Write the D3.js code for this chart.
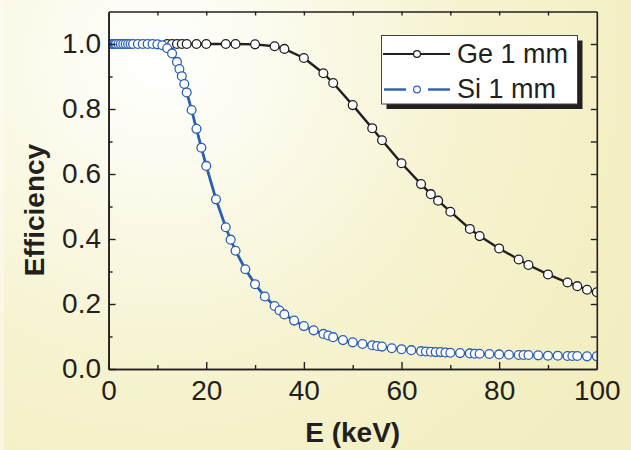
<!DOCTYPE html>
<html>
<head>
<meta charset="utf-8">
<script src="https://cdn.jsdelivr.net/npm/d3@7"></script>
<style>
  body { margin: 0; background: #f5f2cc; }
  svg { display: block; font-family: "Liberation Sans", Arial, sans-serif; }
</style>
</head>
<body>
<svg id="chart" width="631" height="450"></svg>
<script>
// energies (keV) and efficiencies
const geEnergy = [12, 13, 14, 15, 16, 18, 20, 24, 26, 30, 34, 36, 40, 44, 46, 50, 54, 56, 60, 64, 66, 67.5, 70, 74, 76, 80, 84, 86, 90, 94, 96, 98, 100];
const geEff = [1.0, 1.0, 1.0, 1.0, 1.0, 1.0, 1.0, 1.0, 1.0, 0.999, 0.993, 0.985, 0.957, 0.910, 0.880, 0.812, 0.741, 0.704, 0.633, 0.569, 0.538, 0.518, 0.484, 0.431, 0.409, 0.371, 0.337, 0.320, 0.291, 0.266, 0.255, 0.244, 0.236];

const siEnergy = [0.5, 0.75, 1, 1.25, 1.5, 2, 2.5, 3, 3.5, 4, 4.5, 5, 6, 7, 8, 9, 10, 11, 12, 13, 14, 14.5, 15, 15.5, 16, 17, 18, 19, 20, 22, 24, 25, 26, 28, 30, 32, 34, 35, 36, 38, 40, 42, 44, 45, 46, 48, 50, 52, 54, 55, 56, 58, 60, 62, 64, 65, 66, 67, 68, 69, 70, 72, 74, 75, 76, 78, 80, 82, 84, 85, 86, 88, 90, 92, 94, 95, 96, 98, 100];
const siEff = [1.0, 1.0, 1.0, 1.0, 1.0, 1.0, 1.0, 1.0, 1.0, 1.0, 1.0, 1.0, 1.0, 1.0, 1.0, 1.0, 0.999, 0.996, 0.987, 0.971, 0.945, 0.923, 0.901, 0.877, 0.851, 0.797, 0.739, 0.681, 0.625, 0.522, 0.436, 0.398, 0.364, 0.307, 0.261, 0.223, 0.194, 0.180, 0.168, 0.149, 0.132, 0.119, 0.108, 0.103, 0.098, 0.089, 0.082, 0.077, 0.073, 0.071, 0.069, 0.064, 0.061, 0.058, 0.055, 0.054, 0.053, 0.052, 0.052, 0.051, 0.050, 0.049, 0.048, 0.047, 0.047, 0.046, 0.045, 0.044, 0.043, 0.043, 0.043, 0.042, 0.041, 0.041, 0.040, 0.040, 0.040, 0.039, 0.039];

const xTicks = [0, 20, 40, 60, 80, 100];
const xMinor = [10, 30, 50, 70, 90];
const yTicks = [0, 0.2, 0.4, 0.6, 0.8, 1.0];
const yMinor = [0.1, 0.3, 0.5, 0.7, 0.9];
const seriesNames = ["Ge 1 mm", "Si 1 mm"];

const ink = "#231f20";
const blue = "#2c5fb3";

const svg = d3.select("#chart");
const plotL = 108.6, plotR = 596.8, plotT = 11.5, plotB = 369;

// background
const defs = svg.append("defs");
const grad = defs.append("radialGradient").attr("id", "bg").attr("gradientUnits", "userSpaceOnUse")
    .attr("cx", 160).attr("cy", 60).attr("r", 560);
grad.append("stop").attr("offset", 0).attr("stop-color", "#ffffff");
grad.append("stop").attr("offset", 0.2).attr("stop-color", "#fcfbee");
grad.append("stop").attr("offset", 0.55).attr("stop-color", "#f6f3d0");
grad.append("stop").attr("offset", 1).attr("stop-color", "#f2eebf");
svg.append("rect").attr("width", 631).attr("height", 450).attr("fill", "url(#bg)");
svg.append("rect").attr("width", 4).attr("height", 450).attr("fill", "#ffffff").attr("opacity", 0.35);

defs.append("clipPath").attr("id", "plot").append("rect")
    .attr("x", plotL).attr("y", plotT).attr("width", plotR - plotL).attr("height", plotB - plotT);

const x = d3.scaleLinear().domain([0, 100]).range([plotL, plotR]);
const y = d3.scaleLinear().domain([0, 1.1]).range([plotB, plotT]);

// data series
const ge = geEnergy.map((e, i) => ({e: e, v: geEff[i]}));
const si = siEnergy.map((e, i) => ({e: e, v: siEff[i]}));
const line = d3.line().x(d => x(d.e)).y(d => y(d.v));
const plot = svg.append("g").attr("clip-path", "url(#plot)");

function drawSeries(data, color, width) {
    plot.append("path").datum(data).attr("fill", "none").attr("stroke", color)
        .attr("stroke-width", width).attr("stroke-linejoin", "round").attr("d", line);
    plot.append("g").selectAll("circle").data(data).enter().append("circle")
        .attr("cx", d => x(d.e)).attr("cy", d => y(d.v)).attr("r", 4.4)
        .attr("fill", "#ffffff").attr("stroke", color).attr("stroke-width", 1.3);
}
drawSeries(ge, ink, 2.4);
drawSeries(si, blue, 2.8);

// axes, ticks pointing inward
function styleAxis(g) {
    g.selectAll(".domain").attr("stroke", ink).attr("stroke-width", 1.6);
    g.selectAll(".tick line").attr("stroke", ink).attr("stroke-width", 1.4);
    g.selectAll("text").attr("fill", ink).style("font-size", "28px");
    g.attr("font-family", null);
}
svg.append("g").attr("transform", `translate(0,${plotB})`)
    .call(d3.axisBottom(x).tickValues(xTicks).tickFormat(d3.format("d")).tickSizeInner(-7).tickSizeOuter(0).tickPadding(11))
    .call(styleAxis);
svg.append("g").attr("transform", `translate(0,${plotB})`)
    .call(d3.axisBottom(x).tickValues(xMinor).tickFormat("").tickSizeInner(-4).tickSizeOuter(0))
    .call(styleAxis);
svg.append("g").attr("transform", `translate(${plotL},0)`)
    .call(d3.axisLeft(y).tickValues(yTicks).tickFormat(d3.format(".1f")).tickSizeInner(-7).tickSizeOuter(0).tickPadding(7.6))
    .call(styleAxis);
svg.append("g").attr("transform", `translate(${plotL},0)`)
    .call(d3.axisLeft(y).tickValues(yMinor).tickFormat("").tickSizeInner(-4).tickSizeOuter(0))
    .call(styleAxis);
svg.append("g").attr("transform", `translate(${plotR},0)`)
    .call(d3.axisRight(y).tickValues(yTicks.concat(yMinor).filter(d => d > 0)).tickFormat("").tickSizeInner(-6).tickSizeOuter(0))
    .call(styleAxis);
svg.append("g").attr("transform", `translate(0,${plotT})`)
    .call(d3.axisTop(x).tickValues(xMinor.concat(xTicks).filter(d => d > 0 && d < 100)).tickFormat("").tickSizeInner(-4).tickSizeOuter(0))
    .call(styleAxis);

// axis titles
svg.append("text").attr("transform", "translate(44,210) rotate(-90)").attr("text-anchor", "middle")
    .attr("fill", ink).style("font-size", "28px").style("font-weight", "bold").text("Efficiency");
svg.append("text").attr("x", (plotL + plotR) / 2).attr("y", 442).attr("text-anchor", "middle")
    .attr("fill", ink).style("font-size", "28px").style("font-weight", "bold").text("E (keV)");

// legend with drop shadow
const legend = svg.append("g");
legend.append("rect").attr("x", 386.5).attr("y", 40.5).attr("width", 196).attr("height", 68.5).attr("fill", ink);
legend.append("rect").attr("x", 381.5).attr("y", 35.5).attr("width", 196).attr("height", 68.5)
    .attr("fill", "#ffffff").attr("stroke", "#444").attr("stroke-width", 1);
const rows = [{name: seriesNames[0], color: ink, dashed: false, cy: 54, by: 63},
              {name: seriesNames[1], color: blue, dashed: true, cy: 89.5, by: 97.5}];
rows.forEach(r => {
    const row = legend.append("g");
    if (r.dashed) {
        row.append("line").attr("x1", 384).attr("x2", 406).attr("y1", r.cy).attr("y2", r.cy).attr("stroke", r.color).attr("stroke-width", 2.4);
        row.append("line").attr("x1", 428).attr("x2", 450).attr("y1", r.cy).attr("y2", r.cy).attr("stroke", r.color).attr("stroke-width", 2.4);
    } else {
        row.append("line").attr("x1", 383).attr("x2", 450).attr("y1", r.cy).attr("y2", r.cy).attr("stroke", r.color).attr("stroke-width", 2.2);
    }
    row.append("circle").attr("cx", 417).attr("cy", r.cy).attr("r", 3.4).attr("fill", "#fff").attr("stroke", r.color).attr("stroke-width", 1.2);
    row.append("text").attr("x", 457).attr("y", r.by).attr("fill", ink).style("font-size", "27px").text(r.name);
});
</script>
</body>
</html>
